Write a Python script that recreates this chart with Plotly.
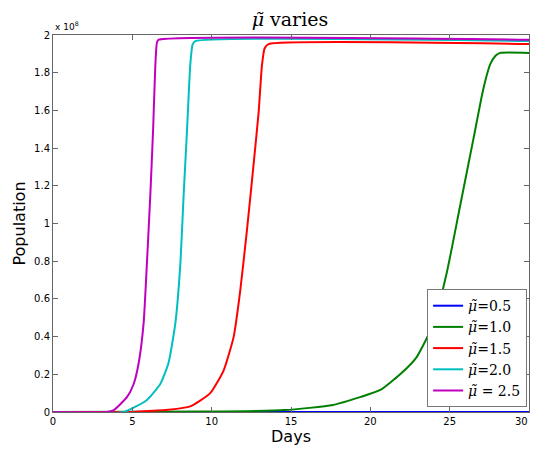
import plotly.graph_objects as go

# Days and population (in units of 1e8)
days_05 = [0, 30]
pop_05 = [0.0, 0.0]

days_10 = [0, 9.72, 14.61, 17.64, 19.4, 20.63, 21.88, 22.91, 23.99, 24.82, 25.65, 26.5, 27.11, 27.56, 27.89, 28.18, 30]
pop_10 = [0.0, 0.002, 0.01, 0.037, 0.08, 0.117, 0.2, 0.29, 0.47, 0.74, 1.09, 1.45, 1.71, 1.845, 1.89, 1.905, 1.905]

days_15 = [0, 4.84, 5.53, 7.28, 8.65, 9.91, 10.75, 11.39, 11.81, 12.23, 12.65, 12.96, 13.17, 13.34, 13.59, 30]
pop_15 = [0.0, 0.0, 0.003, 0.012, 0.03, 0.1, 0.22, 0.4, 0.65, 0.97, 1.32, 1.59, 1.84, 1.93, 1.952, 1.952]

days_20 = [0, 4.45, 5.92, 6.77, 7.28, 7.71, 8.03, 8.23, 8.45, 8.65, 8.80, 8.97, 30]
pop_20 = [0.0, 0.0, 0.064, 0.15, 0.26, 0.47, 0.79, 1.145, 1.5, 1.84, 1.95, 1.968, 1.968]

days_25 = [0, 3.38, 3.83, 4.67, 5.09, 5.40, 5.71, 5.92, 6.13, 6.31, 6.45, 6.55, 6.66, 30]
pop_25 = [0.0, 0.0, 0.01, 0.08, 0.15, 0.26, 0.47, 0.79, 1.145, 1.5, 1.84, 1.96, 1.975, 1.975]

names = ["<i>\u03bc\u0303</i>=0.5", "<i>\u03bc\u0303</i>=1.0", "<i>\u03bc\u0303</i>=1.5",
         "<i>\u03bc\u0303</i>=2.0", "<i>\u03bc\u0303</i> = 2.5"]
colors = ["rgb(0,0,255)", "rgb(0,128,0)", "rgb(255,0,0)", "rgb(0,191,191)", "rgb(191,0,191)"]
xs_all = [days_05, days_10, days_15, days_20, days_25]
ys_all = [pop_05, pop_10, pop_15, pop_20, pop_25]

x_ticks = [0, 5, 10, 15, 20, 25, 30]
x_ticktext = ["0", "5", "10", "15", "20", "25", ""]
last_x_label = "30"
y_ticks = [0, 0.2, 0.4, 0.6, 0.8, 1, 1.2, 1.4, 1.6, 1.8, 2]
y_ticktext = ["0", "0.2", "0.4", "0.6", "0.8", "1", "1.2", "1.4", "1.6", "1.8", "2"]

fig = go.Figure()
for name, xs, ys, color in zip(names, xs_all, ys_all, colors):
    fig.add_trace(go.Scatter(x=xs, y=ys, mode="lines", name=name,
                             line=dict(color=color, width=2, shape="spline", smoothing=0.5)))

axis_common = dict(showgrid=False, zeroline=False, showline=True, linecolor="#666666",
                   linewidth=1, mirror="ticks", ticks="inside", ticklen=5,
                   tickcolor="#666666", automargin=False,
                   tickfont=dict(family="DejaVu Sans", size=10, color="black"))

fig.update_layout(
    width=536, height=453,
    margin=dict(l=53, r=7, t=35, b=41),
    paper_bgcolor="white", plot_bgcolor="white",
    title=dict(text="<i>\u03bc\u0303</i> varies", x=0.541, xanchor="center", y=0.958, yanchor="middle",
               font=dict(family="DejaVu Serif", size=19, color="black")),
    xaxis=dict(range=[0, 30], tickvals=x_ticks, ticktext=x_ticktext,
               title=dict(text="Days", font=dict(family="DejaVu Sans", size=16, color="black"), standoff=4),
               **axis_common),
    yaxis=dict(range=[0, 2], tickvals=y_ticks, ticktext=y_ticktext,
               title=dict(text="Population", font=dict(family="DejaVu Sans", size=16, color="black"), standoff=4),
               **axis_common),
    legend=dict(x=0.996, xanchor="right", y=0.013, yanchor="bottom",
                bgcolor="white", bordercolor="#777777", borderwidth=1,
                font=dict(family="DejaVu Serif", size=14, color="black"),
                tracegroupgap=0, itemwidth=30),
    showlegend=True,
)

# last x tick label, pulled inside the figure like the original
fig.add_annotation(text=last_x_label, xref="x", yref="paper", x=x_ticks[-1], y=0,
                   xanchor="right", yanchor="top", showarrow=False, yshift=-2, xshift=1,
                   font=dict(family="DejaVu Sans", size=10, color="black"))

fig.add_annotation(text="x 10<sup>8</sup>", xref="paper", yref="paper", x=0, y=1,
                   xanchor="left", yanchor="bottom", showarrow=False, yshift=1,
                   font=dict(family="DejaVu Sans", size=9, color="black"))

fig.write_html("out.html", config={"displayModeBar": False},
               post_script="document.body.style.margin='0';document.body.style.padding='0';")
